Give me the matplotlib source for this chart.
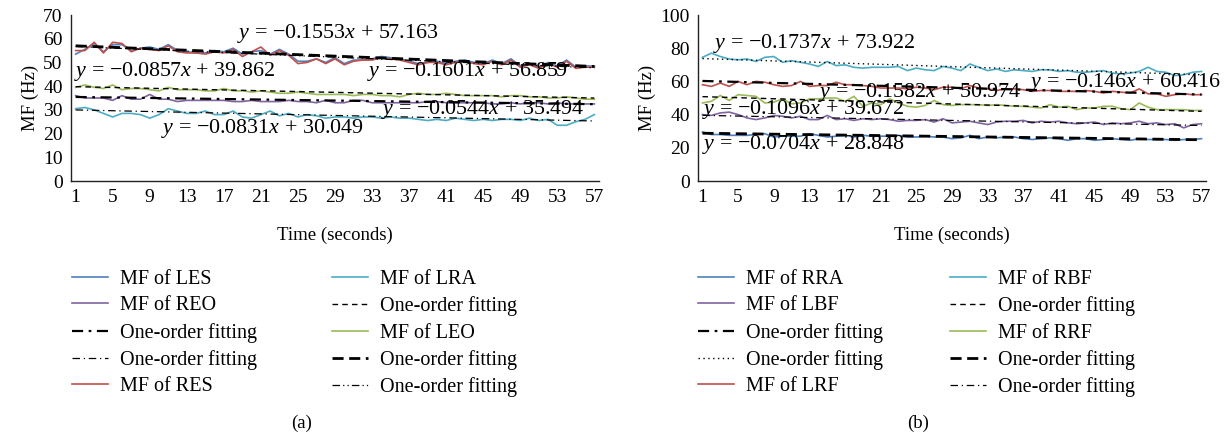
import matplotlib
matplotlib.use("Agg")
import matplotlib.pyplot as plt
import numpy as np

plt.rcParams['font.family'] = ['Liberation Serif', 'DejaVu Serif']
plt.rcParams['mathtext.fontset'] = 'custom'
plt.rcParams['mathtext.rm'] = 'Liberation Serif'
plt.rcParams['mathtext.it'] = 'Liberation Serif:italic'

# ---------------- data ----------------
time_s = list(range(1, 58))
xtick_labels = [str(v) for v in range(1, 58, 4)]

# panel (a)
mf_les = [53.5, 55.5, 58, 54.5, 57.5, 57.5, 55, 56, 56.5, 55.5, 57.5, 55, 54.5, 54, 54, 55, 54.5, 56,
          53.5, 54.5, 55, 53.5, 55.5, 53.5, 50.5, 50.5, 51.5, 50, 52, 49.5, 51, 51, 51.5, 52.5, 52, 51.5,
          50.5, 49.5, 50, 50.5, 49.5, 50.5, 51, 50, 49.5, 51, 49.5, 51.5, 48.5, 49.5, 48, 50, 48.5, 51,
          48, 48.5, 48.5]
mf_res = [55, 55, 58.5, 54, 58.5, 58, 54.5, 56, 55.5, 55, 57, 54.5, 54, 54, 53.5, 54.5, 54, 55.5,
          52.5, 54.5, 56.5, 53, 55, 53, 49.5, 50, 51.5, 49.5, 51.5, 49, 50.5, 51, 51, 52, 51.5, 51,
          50, 49, 50, 50, 49, 50, 50.5, 49.5, 49, 50.5, 49, 51, 48, 49, 47.5, 49.5, 48, 50.5, 47.5,
          48, 48]
mf_leo = [39.5, 40.5, 39.5, 39, 40.5, 38.5, 39, 39, 38.5, 38, 39.5, 38.5, 38.5, 38.5, 38, 38, 39, 38,
          38, 37.5, 38, 37.5, 37, 37, 37.5, 37, 36.5, 36.5, 36.5, 36.5, 36, 36.5, 36.5, 36, 36, 35.5,
          36.5, 37, 36.5, 36.5, 37, 36.5, 36, 36, 36, 36, 35.5, 36, 36, 35.5, 35.5, 35, 35, 35.5, 35,
          34.5, 34.5]
mf_reo = [36, 35, 35, 35, 34, 36, 34.5, 34.5, 36.5, 34.5, 34.5, 33.5, 34, 34, 34, 34, 34, 33.5, 33.5,
          34, 33.5, 33.5, 33.5, 34, 33.5, 33.5, 33, 34, 33, 33, 34, 34, 33, 33, 33, 33, 33, 33, 33.5,
          33.5, 33, 33, 33, 33, 33, 32.5, 32.5, 33, 32.5, 33, 33, 32.5, 33, 32.5, 32.5, 32.5, 32.5]
mf_lra = [30.5, 31, 30, 28.5, 27, 28.5, 28.5, 28, 26.5, 28, 30.5, 29.5, 28.5, 28.5, 29.5, 28, 28,
          29.5, 27, 26.5, 28, 29.5, 27.5, 28.5, 27, 28, 27.5, 26.5, 27, 27, 26.5, 27, 27, 26.5, 27,
          26.5, 26.5, 26, 25.5, 26, 25.5, 26.5, 26, 25.5, 26, 25.5, 26, 26, 25.5, 26.5, 25.5, 26,
          23.5, 23.5, 25, 26, 28]

# fits (slope, intercept) panel (a)
fit_les = (-0.1553, 57.163)
fit_res = (-0.1601, 56.859)
fit_leo = (-0.0857, 39.862)
fit_reo = (-0.0544, 35.494)
fit_lra = (-0.0831, 30.049)

# panel (b)
mf_rbf = [74.5, 77, 75, 73.5, 73, 73.5, 72, 74.5, 75, 71.5, 72.5, 71.5, 70.5, 69, 72, 69.5, 70, 68.5,
          68, 68.5, 68.5, 68.5, 69, 66.5, 68, 67, 66.5, 69, 68, 66.5, 70.5, 68.5, 66.5, 67.5, 66, 67,
          66.5, 66, 67, 67, 66, 66.5, 65.5, 65.5, 66, 66.5, 65, 64.5, 65, 66, 68.5, 66, 65.5, 63.5,
          64, 65.5, 66]
mf_lrf = [58, 57, 59, 57, 60, 58, 60, 59.5, 58, 57, 57.5, 60, 57, 57.5, 57.5, 59.5, 58, 58, 57.5, 57,
          56, 56, 56, 55.5, 56.5, 56, 55, 56.5, 56.5, 55.5, 57.5, 56, 55.5, 54.5, 55.5, 55.5, 55, 54,
          54.5, 54.5, 54, 54, 54, 54.5, 54, 53, 54, 53.5, 53, 55.5, 52.5, 52.5, 51, 52, 52.5, 52, 52]
mf_rrf = [47, 48, 51.5, 48.5, 52, 51.5, 51, 47, 47.5, 49.5, 46.5, 47, 49.5, 49.5, 50, 50, 48, 51, 45,
          47, 46, 49.5, 47, 45, 44.5, 45.5, 48.5, 46, 45.5, 46, 46, 46, 45.5, 46, 45.5, 45, 45, 44.5,
          44, 46, 44.5, 45, 43, 44, 44, 45, 45, 43.5, 43, 47, 44.5, 43, 43, 43, 43, 42.5, 42.5]
mf_lbf = [40, 39.5, 41, 41.5, 40, 38, 37, 38, 39.5, 39, 38, 39, 37, 37, 39.5, 37, 37.5, 36.5, 37.5, 37,
          37.5, 37, 36, 36.5, 36.5, 37, 35.5, 37.5, 35, 35.5, 36, 35, 34, 35.5, 36, 36, 36.5, 35, 36,
          35.5, 36, 35, 34.5, 35, 35.5, 34, 35, 34.5, 35, 36, 34.5, 35, 34, 34.5, 32, 34, 34.5]
mf_rra = [29.5, 28, 28, 27.5, 27.5, 27.5, 28, 28.5, 26.5, 27, 27, 27, 28.5, 27.5, 26.5, 27, 27.5, 26.5,
          27.5, 27, 27, 27, 27.5, 26.5, 26.5, 27, 26.5, 26.5, 25.5, 26, 27.5, 25.5, 26.5, 26, 26.5,
          26.5, 25.5, 25, 25.5, 26, 25.5, 24.5, 25.5, 25.5, 24.5, 25, 25.5, 25, 24.5, 25.5, 25, 25, 25,
          24.5, 25, 25, 25.5]

fit_rbf = (-0.1737, 73.922)
fit_lrf = (-0.146, 60.416)
fit_rrf = (-0.1582, 50.974)
fit_lbf = (-0.1096, 39.672)
fit_rra = (-0.0704, 28.848)

# ---------------- styles ----------------
C_BLUE = '#4F81BD'
C_RED = '#C0504D'
C_GREEN = '#9BBB59'
C_PURPLE = '#8064A2'
C_CYAN = '#4BACC6'

S_DASH_THIN = dict(color='black', lw=1.0, dashes=(4, 3))
S_DASH_BOLD = dict(color='black', lw=2.0, dashes=(4, 2))
S_DASHDOT_BOLD = dict(color='black', lw=1.6, dashes=(5, 2.5, 1.2, 2.5))
S_DASHDOT_THIN = dict(color='black', lw=0.9, dashes=(6, 3, 1, 3))
S_DASHDOTDOT = dict(color='black', lw=0.9, dashes=(6, 2.5, 1, 2.5, 1, 2.5))
S_DOT = dict(color='black', lw=1.0, dashes=(1, 2.5))

FS_TICK = 14
FS_LABEL = 13.5
FS_EQ = 15.8
FS_LEG = 14.5

fig = plt.figure(figsize=(12.25, 4.4), dpi=100)
W, H = 1225.0, 440.0


def px_axes(x0, x1, y0, y1):
    return fig.add_axes([x0 / W, 1 - y1 / H, (x1 - x0) / W, (y1 - y0) / H])


def style_axes(ax, ymax, ystep):
    ax.set_xlim(0.5, 57.5)
    ax.set_ylim(0, ymax)
    ax.set_xticks(range(1, 58, 4))
    ax.set_xticklabels(xtick_labels, fontsize=FS_TICK)
    ax.set_yticks(range(0, ymax + 1, ystep))
    ax.tick_params(axis='both', length=0, labelsize=FS_TICK, pad=6)
    for s in ('top', 'right'):
        ax.spines[s].set_visible(False)
    for s in ('left', 'bottom'):
        ax.spines[s].set_linewidth(1.0)
        ax.spines[s].set_color('#222222')
    ax.set_xlabel('Time (seconds)', fontsize=FS_LABEL, labelpad=15)
    ax.set_ylabel('MF (Hz)', fontsize=FS_LABEL, labelpad=3)


def fit_line(ax, fit, style):
    t = np.array(time_s, dtype=float)
    return ax.plot(t, fit[0] * t + fit[1], **style)[0]


def eq_text(ax, x, y, fit):
    a, b = fit
    s = r'$y$ = ' + ('\u2212' if a < 0 else '') + f'{abs(a):g}' + r'$x$ + ' + f'{b:.3f}'
    ax.text(x, y, s, fontsize=FS_EQ, va='center', ha='left')


# ---------------- panel (a) ----------------
axa = px_axes(71, 599, 15, 181)
h_les, = axa.plot(time_s, mf_les, color=C_BLUE, lw=1.2)
h_lra, = axa.plot(time_s, mf_lra, color=C_CYAN, lw=1.2)
h_reo, = axa.plot(time_s, mf_reo, color=C_PURPLE, lw=1.2)
h_leo, = axa.plot(time_s, mf_leo, color=C_GREEN, lw=1.2)
h_res, = axa.plot(time_s, mf_res, color=C_RED, lw=1.2)
fa_leo = fit_line(axa, fit_leo, S_DASH_THIN)
fa_reo = fit_line(axa, fit_reo, S_DASHDOT_BOLD)
fa_lra = fit_line(axa, fit_lra, S_DASHDOT_THIN)
fa_les = fit_line(axa, fit_les, S_DASH_BOLD)
fa_res = fit_line(axa, fit_res, S_DASHDOTDOT)
style_axes(axa, 70, 10)

eq_text(axa, 18.4, 62.2, fit_les)
eq_text(axa, 0.8, 46.0, fit_leo)
eq_text(axa, 32.5, 46.0, fit_res)
eq_text(axa, 34.0, 30.0, fit_reo)
eq_text(axa, 10.2, 22.3, fit_lra)

# legend (a): column-major order to mimic layout
col1 = [h_les, h_reo, fa_reo, fa_lra, h_res]
col2 = [h_lra, fa_leo, h_leo, fa_les, fa_res]
lab1 = ['MF of LES', 'MF of REO', 'One-order fitting', 'One-order fitting', 'MF of RES']
lab2 = ['MF of LRA', 'One-order fitting', 'MF of LEO', 'One-order fitting', 'One-order fitting']

leg_kw = dict(ncol=2, frameon=False, fontsize=FS_LEG, handlelength=1.8, handletextpad=0.6,
              columnspacing=3.7, labelspacing=0.36, borderpad=0, borderaxespad=0,
              loc='upper left')
fig.legend(col1 + col2, lab1 + lab2, bbox_to_anchor=(72 / W, 1 - 270 / H), **leg_kw)
fig.text(302 / W, 1 - 423 / H, '(a)', fontsize=FS_LABEL, ha='center', va='center')

# ---------------- panel (b) ----------------
axb = px_axes(698, 1206, 15, 181)
h_rra, = axb.plot(time_s, mf_rra, color=C_BLUE, lw=1.2)
h_rbf, = axb.plot(time_s, mf_rbf, color=C_CYAN, lw=1.2)
h_lbf, = axb.plot(time_s, mf_lbf, color=C_PURPLE, lw=1.2)
h_rrf, = axb.plot(time_s, mf_rrf, color=C_GREEN, lw=1.2)
h_lrf, = axb.plot(time_s, mf_lrf, color=C_RED, lw=1.2)
fb_rrf = fit_line(axb, fit_rrf, S_DASH_THIN)
fb_lrf = fit_line(axb, fit_lrf, S_DASHDOT_BOLD)
fb_rbf = fit_line(axb, fit_rbf, S_DOT)
fb_rra = fit_line(axb, fit_rra, S_DASH_BOLD)
fb_lbf = fit_line(axb, fit_lbf, S_DASHDOT_THIN)
style_axes(axb, 100, 20)

eq_text(axb, 2.2, 83.0, fit_rbf)
eq_text(axb, 14.0, 53.6, fit_rrf)
eq_text(axb, 0.9, 42.8, fit_lbf)
eq_text(axb, 1.0, 21.7, fit_rra)
eq_text(axb, 37.6, 59.6, fit_lrf)

col1b = [h_rra, h_lbf, fb_lrf, fb_rbf, h_lrf]
col2b = [h_rbf, fb_rrf, h_rrf, fb_rra, fb_lbf]
lab1b = ['MF of RRA', 'MF of LBF', 'One-order fitting', 'One-order fitting', 'MF of LRF']
lab2b = ['MF of RBF', 'One-order fitting', 'MF of RRF', 'One-order fitting', 'One-order fitting']
leg_kw_b = dict(leg_kw, columnspacing=3.3)
fig.legend(col1b + col2b, lab1b + lab2b, bbox_to_anchor=(698 / W, 1 - 270 / H), **leg_kw_b)
fig.text(918 / W, 1 - 423 / H, '(b)', fontsize=FS_LABEL, ha='center', va='center')

fig.savefig('out.png', dpi=100)
